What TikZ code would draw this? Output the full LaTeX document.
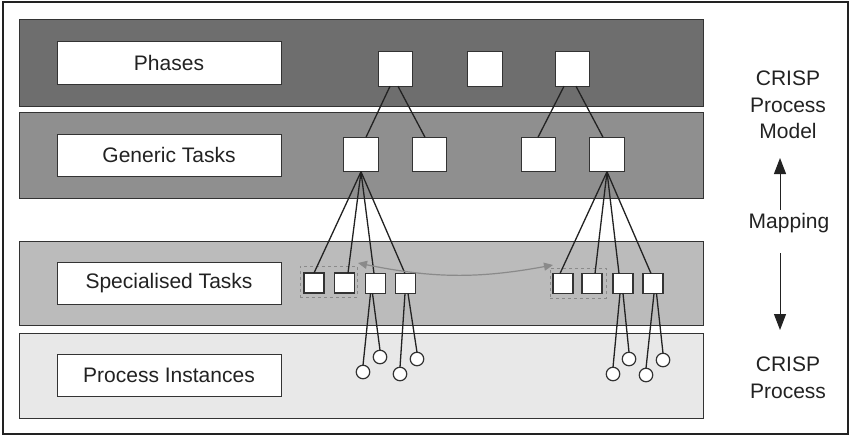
\documentclass[tikz,border=0pt]{standalone}
\usepackage{fontspec}
\setmainfont{Liberation Sans}
\usetikzlibrary{arrows.meta,calc}
\definecolor{bandA}{HTML}{6E6E6E}
\definecolor{bandB}{HTML}{8F8F8F}
\definecolor{bandC}{HTML}{BBBBBB}
\definecolor{bandD}{HTML}{E8E8E8}
\definecolor{ink}{HTML}{222222}
\definecolor{edge}{HTML}{333333}
\definecolor{mapgray}{HTML}{8A8A8A}
\begin{document}
\begin{tikzpicture}[x=1pt,y=-1pt,
  every node/.style={inner sep=0pt, outer sep=0pt},
  layerbox/.style={draw=edge, line width=1pt, minimum width=684pt},
  layertitle/.style={draw=edge, fill=white, line width=1pt, minimum width=224pt,
    minimum height=42pt, font=\fontsize{21}{26}\selectfont, text=ink},
  phasebox/.style={draw=edge, fill=white, line width=1pt, minimum size=34.5pt},
  taskbox/.style={draw=edge, fill=white, line width=1.3pt, minimum size=20pt},
  instcirc/.style={circle, draw=edge, fill=white, line width=1.2pt, minimum size=13.5pt},
  tie/.style={draw=ink, line width=1.3pt},
  groupbox/.style={draw=mapgray, dashed, line width=1pt},
  sidetext/.style={align=center, font=\fontsize{21}{26.5}\selectfont, text=ink},
  maparrow/.style={draw=ink, line width=1pt, -{Triangle[length=16pt,width=12pt]}},
  linkarrow/.style={draw=mapgray, line width=1.2pt,
    {Triangle[length=9pt,width=8pt]}-{Triangle[length=9pt,width=8pt]}}
]
\useasboundingbox (0,0) rectangle (850,436);
\fill[white] (0,0) rectangle (850,436);
\draw[ink, line width=2pt] (3,2.5) rectangle (847.5,433.5);

% layer bands
\node[layerbox, fill=bandA, minimum height=86pt] (L1) at (361,63) {};
\node[layerbox, fill=bandB, minimum height=86pt] (L2) at (361,155) {};
\node[layerbox, fill=bandC, minimum height=84pt] (L3) at (361,283) {};
\node[layerbox, fill=bandD, minimum height=85pt] (L4) at (361,375.5) {};

% layer titles
\node[layertitle] (T1) at (169,63) {Phases};
\node[layertitle] (T2) at (169,155) {Generic Tasks};
\node[layertitle] (T3) at (169,283) {Specialised Tasks};
\node[layertitle] (T4) at (169,375.5) {Process Instances};

% dashed groups of specialised tasks
\node[groupbox, minimum width=57pt, minimum height=31pt] (d1) at (328.5,281.5) {};
\node[groupbox, minimum width=56pt, minimum height=30pt] (d2) at (578,283) {};

% phases
\node[phasebox] (p1) at (395.5,69) {};
\node[phasebox] (p2) at (485,69) {};
\node[phasebox] (p3) at (572.5,69) {};

% generic tasks
\node[phasebox] (g1) at (361,154.5) {};
\node[phasebox] (g2) at (429.5,154.5) {};
\node[phasebox] (g3) at (538.5,154.5) {};
\node[phasebox] (g4) at (607,154.5) {};

% specialised tasks
\node[taskbox] (s1) at (314,283) {};
\node[taskbox] (s2) at (344.5,283) {};
\node[taskbox] (s3) at (375.5,283.5) {};
\node[taskbox] (s4) at (405.5,283.5) {};
\node[taskbox] (s5) at (563,283.5) {};
\node[taskbox] (s6) at (592,283.5) {};
\node[taskbox] (s7) at (623,283.5) {};
\node[taskbox] (s8) at (653,283.5) {};

% process instances
\node[instcirc] (c1) at (363,372) {};
\node[instcirc] (c2) at (380,357) {};
\node[instcirc] (c3) at (400,374) {};
\node[instcirc] (c4) at (417,359) {};
\node[instcirc] (c5) at (613,374) {};
\node[instcirc] (c6) at (629,359) {};
\node[instcirc] (c7) at (646,375) {};
\node[instcirc] (c8) at (663,360) {};

% phase -> generic task
\draw[tie] ($(p1.south)+(-5.5,0)$) -- ($(g1.north)+(5,0)$);
\draw[tie] ($(p1.south)+(2.5,0)$) -- ($(g2.north)+(-4.5,0)$);
\draw[tie] ($(p3.south)+(-8.5,0)$) -- ($(g3.north)+(-0.5,0)$);
\draw[tie] ($(p3.south)+(3.5,0)$) -- ($(g4.north)+(-4,0)$);

% generic -> specialised task
\draw[tie] (g1.south) -- (s1.north);
\draw[tie] (g1.south) -- ($(s2.north)+(3.5,0)$);
\draw[tie] (g1.south) -- ($(s3.north)+(-1.5,0)$);
\draw[tie] (g1.south) -- ($(s4.north)+(-0.5,0)$);
\draw[tie] (g4.south) -- ($(s5.north)+(-3,0)$);
\draw[tie] (g4.south) -- ($(s6.north)+(3,0)$);
\draw[tie] (g4.south) -- ($(s7.north)+(-4,0)$);
\draw[tie] (g4.south) -- ($(s8.north)+(-2,0)$);

% specialised task -> process instance
\draw[tie] ($(s3.south)+(-5,0)$) -- (c1.north);
\draw[tie] ($(s3.south)+(-3,0)$) -- (c2.north);
\draw[tie] ($(s4.south)+(-0.5,0)$) -- (c3.north);
\draw[tie] ($(s4.south)+(2.5,0)$) -- (c4.north);
\draw[tie] ($(s7.south)+(-3,0)$) -- (c5.north);
\draw[tie] ($(s7.south)+(0,0)$) -- (c6.north);
\draw[tie] ($(s8.south)+(1,0)$) -- (c7.north);
\draw[tie] ($(s8.south)+(3.5,0)$) -- (c8.north);

% link between the two groups
\draw[linkarrow] ($(d1.north east)+(1,-3)$) to[bend right=11] ($(d2.north west)+(3,-3)$);

% model / process side labels
\node[sidetext] (model) at (788,105) {CRISP\\Process\\Model};
\node[sidetext] (map) at (789,223) {Mapping};
\node[sidetext] (proc) at (788,378) {CRISP\\Process};
\coordinate (upS) at (780,210);
\coordinate (upE) at (780,158);
\coordinate (dnS) at (780,253);
\coordinate (dnE) at (780,330);
\draw[maparrow] (upS) -- (upE);
\draw[maparrow] (dnS) -- (dnE);
\end{tikzpicture}
\end{document}
